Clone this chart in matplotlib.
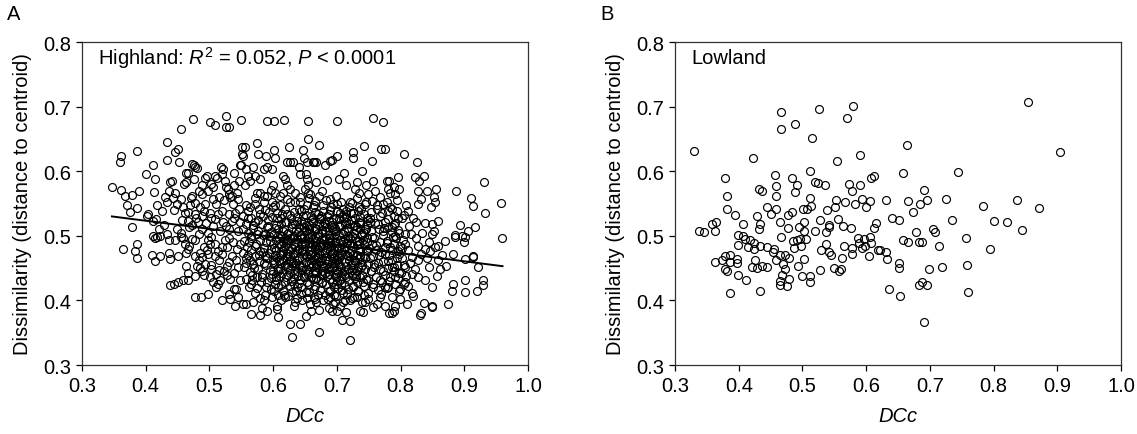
import numpy as np
import matplotlib
matplotlib.use("Agg")
import matplotlib.pyplot as plt

plt.rcParams['font.family'] = ['Liberation Sans', 'DejaVu Sans']
plt.rcParams['mathtext.fontset'] = 'custom'
plt.rcParams['mathtext.rm'] = 'Liberation Sans'
plt.rcParams['mathtext.it'] = 'Liberation Sans:italic'

# Highland points (DCc, dissimilarity), grouped by DCc band
highland_035 = [
    (0.347, 0.576), (0.362, 0.571), (0.367, 0.561), (0.379, 0.563), (0.389, 0.569), (0.413, 0.568),
    (0.371, 0.548), (0.375, 0.537), (0.387, 0.543), (0.417, 0.548), (0.404, 0.534), (0.412, 0.523),
    (0.378, 0.514), (0.362, 0.624), (0.360, 0.614), (0.387, 0.631), (0.412, 0.610), (0.401, 0.596),
    (0.414, 0.588), (0.434, 0.646), (0.446, 0.629), (0.451, 0.634), (0.434, 0.617), (0.438, 0.583),
    (0.441, 0.585), (0.437, 0.570), (0.446, 0.567), (0.443, 0.558), (0.433, 0.552), (0.449, 0.549),
    (0.416, 0.526), (0.429, 0.517), (0.449, 0.510), (0.412, 0.500), (0.422, 0.499), (0.433, 0.503),
    (0.365, 0.480), (0.383, 0.477), (0.387, 0.487), (0.386, 0.466), (0.410, 0.471), (0.415, 0.461),
    (0.422, 0.469), (0.414, 0.497), (0.417, 0.498), (0.437, 0.493), (0.437, 0.474), (0.438, 0.464),
    (0.446, 0.494), (0.438, 0.424), (0.445, 0.425), (0.402, 0.531), (0.421, 0.510), (0.430, 0.560),
    (0.444, 0.540), (0.426, 0.538),
]
highland_045 = [
    (0.456, 0.665), (0.474, 0.681), (0.501, 0.676), (0.508, 0.672), (0.526, 0.686), (0.526, 0.669),
    (0.530, 0.669), (0.549, 0.680), (0.464, 0.597), (0.476, 0.609), (0.477, 0.606), (0.493, 0.590),
    (0.496, 0.592), (0.476, 0.588), (0.456, 0.557), (0.463, 0.583), (0.471, 0.558), (0.477, 0.551),
    (0.483, 0.570), (0.488, 0.565), (0.498, 0.570), (0.503, 0.580), (0.518, 0.607), (0.521, 0.603),
    (0.519, 0.596), (0.539, 0.597), (0.549, 0.610), (0.526, 0.575), (0.529, 0.572), (0.530, 0.565),
    (0.532, 0.560), (0.543, 0.567), (0.545, 0.557), (0.537, 0.549), (0.505, 0.557), (0.511, 0.549),
    (0.493, 0.549), (0.462, 0.536), (0.467, 0.537), (0.477, 0.534), (0.488, 0.531), (0.501, 0.536),
    (0.519, 0.539), (0.530, 0.534), (0.540, 0.536), (0.509, 0.526), (0.522, 0.521), (0.535, 0.523),
    (0.548, 0.521), (0.456, 0.505), (0.472, 0.516), (0.488, 0.510), (0.498, 0.505), (0.517, 0.508),
    (0.530, 0.510), (0.545, 0.508), (0.451, 0.469), (0.455, 0.498), (0.459, 0.497), (0.463, 0.454),
    (0.464, 0.473), (0.467, 0.480), (0.468, 0.485), (0.477, 0.469), (0.483, 0.462), (0.485, 0.474),
    (0.480, 0.454), (0.488, 0.467), (0.493, 0.456), (0.491, 0.482), (0.497, 0.472), (0.498, 0.493),
    (0.501, 0.487), (0.503, 0.498), (0.477, 0.405), (0.487, 0.406), (0.498, 0.410), (0.451, 0.429),
    (0.458, 0.431), (0.467, 0.432), (0.501, 0.436), (0.506, 0.428), (0.511, 0.441), (0.513, 0.425),
    (0.517, 0.431), (0.510, 0.420), (0.523, 0.446), (0.527, 0.454), (0.530, 0.459), (0.532, 0.433),
    (0.530, 0.410), (0.538, 0.418), (0.540, 0.392), (0.545, 0.405), (0.519, 0.472), (0.527, 0.482),
    (0.535, 0.469), (0.543, 0.480), (0.509, 0.487), (0.514, 0.477), (0.545, 0.451), (0.466, 0.597),
    (0.481, 0.605), (0.473, 0.611), (0.466, 0.523), (0.482, 0.522), (0.495, 0.520), (0.505, 0.515),
    (0.459, 0.545), (0.470, 0.547), (0.485, 0.545), (0.515, 0.560), (0.524, 0.585), (0.538, 0.578),
    (0.512, 0.590), (0.503, 0.455), (0.515, 0.462), (0.525, 0.493), (0.537, 0.490), (0.478, 0.494),
    (0.485, 0.450), (0.492, 0.440), (0.520, 0.400), (0.505, 0.575), (0.453, 0.615), (0.460, 0.580),
    (0.457, 0.525), (0.468, 0.514), (0.479, 0.527), (0.491, 0.538), (0.503, 0.527), (0.514, 0.533),
    (0.526, 0.515), (0.538, 0.528), (0.547, 0.542), (0.461, 0.487), (0.473, 0.495), (0.484, 0.503),
    (0.496, 0.478), (0.508, 0.469), (0.519, 0.483), (0.531, 0.496), (0.542, 0.462), (0.548, 0.488),
    (0.466, 0.443), (0.478, 0.438), (0.489, 0.446), (0.502, 0.449), (0.515, 0.447), (0.528, 0.440),
    (0.539, 0.443), (0.548, 0.432), (0.472, 0.562), (0.489, 0.578), (0.508, 0.592), (0.523, 0.556),
    (0.535, 0.562), (0.547, 0.585), (0.542, 0.417), (0.533, 0.402),
]
highland_055 = [
    (0.551, 0.627), (0.551, 0.637), (0.574, 0.644), (0.556, 0.637), (0.553, 0.624), (0.577, 0.627),
    (0.589, 0.623), (0.601, 0.633), (0.603, 0.620), (0.625, 0.638), (0.647, 0.633), (0.648, 0.620),
    (0.591, 0.677), (0.601, 0.677), (0.617, 0.679), (0.621, 0.615), (0.626, 0.614), (0.631, 0.614),
    (0.640, 0.606), (0.642, 0.596), (0.548, 0.609), (0.558, 0.603), (0.569, 0.606), (0.572, 0.593),
    (0.579, 0.588), (0.585, 0.603), (0.590, 0.607), (0.598, 0.603), (0.561, 0.593), (0.564, 0.585),
    (0.556, 0.578), (0.579, 0.567), (0.590, 0.562), (0.600, 0.578), (0.603, 0.567), (0.616, 0.593),
    (0.619, 0.588), (0.621, 0.578), (0.626, 0.573), (0.615, 0.567), (0.558, 0.547), (0.572, 0.549),
    (0.585, 0.552), (0.600, 0.544), (0.611, 0.547), (0.621, 0.557), (0.634, 0.552), (0.642, 0.560),
    (0.640, 0.542), (0.566, 0.379), (0.590, 0.383), (0.608, 0.375), (0.606, 0.387), (0.630, 0.344),
    (0.627, 0.363), (0.642, 0.363), (0.558, 0.395), (0.569, 0.397), (0.582, 0.389), (0.585, 0.400),
    (0.598, 0.405), (0.606, 0.392), (0.619, 0.405), (0.632, 0.392), (0.634, 0.397), (0.645, 0.400),
    (0.580, 0.378), (0.552, 0.395),
    (0.553, 0.531), (0.566, 0.527), (0.579, 0.533), (0.592, 0.524), (0.606, 0.536), (0.613, 0.528),
    (0.627, 0.532), (0.637, 0.523), (0.647, 0.530), (0.560, 0.538), (0.588, 0.540), (0.620, 0.521),
    (0.644, 0.538), (0.598, 0.529), (0.571, 0.521),
    (0.552, 0.511), (0.561, 0.504), (0.568, 0.516), (0.577, 0.508), (0.584, 0.501), (0.590, 0.514),
    (0.597, 0.506), (0.604, 0.517), (0.611, 0.502), (0.617, 0.511), (0.623, 0.505), (0.629, 0.518),
    (0.636, 0.509), (0.642, 0.501), (0.648, 0.514), (0.557, 0.519), (0.583, 0.519), (0.608, 0.510),
    (0.633, 0.500), (0.574, 0.503),
    (0.554, 0.492), (0.559, 0.483), (0.566, 0.497), (0.573, 0.488), (0.580, 0.494), (0.586, 0.481),
    (0.593, 0.499), (0.599, 0.487), (0.605, 0.493), (0.612, 0.484), (0.618, 0.497), (0.624, 0.489),
    (0.630, 0.481), (0.637, 0.495), (0.643, 0.486), (0.649, 0.498), (0.562, 0.490), (0.589, 0.490),
    (0.615, 0.490), (0.640, 0.480), (0.627, 0.497), (0.602, 0.481),
    (0.552, 0.473), (0.558, 0.465), (0.565, 0.478), (0.571, 0.469), (0.578, 0.461), (0.584, 0.475),
    (0.591, 0.466), (0.597, 0.479), (0.603, 0.470), (0.609, 0.462), (0.616, 0.476), (0.622, 0.468),
    (0.628, 0.461), (0.634, 0.474), (0.641, 0.466), (0.647, 0.479), (0.560, 0.471), (0.587, 0.468),
    (0.613, 0.470), (0.638, 0.463), (0.625, 0.477), (0.600, 0.463),
    (0.555, 0.452), (0.563, 0.444), (0.569, 0.457), (0.576, 0.448), (0.583, 0.441), (0.589, 0.455),
    (0.595, 0.447), (0.602, 0.459), (0.608, 0.450), (0.614, 0.442), (0.621, 0.456), (0.627, 0.448),
    (0.633, 0.441), (0.640, 0.455), (0.646, 0.447), (0.567, 0.440), (0.598, 0.441), (0.624, 0.440),
    (0.636, 0.458), (0.611, 0.458),
    (0.558, 0.433), (0.566, 0.425), (0.574, 0.437), (0.581, 0.428), (0.589, 0.421), (0.596, 0.434),
    (0.603, 0.426), (0.611, 0.438), (0.618, 0.429), (0.626, 0.422), (0.633, 0.435), (0.641, 0.427),
    (0.648, 0.438), (0.562, 0.420), (0.607, 0.420), (0.637, 0.420),
    (0.571, 0.412), (0.588, 0.409), (0.602, 0.414), (0.617, 0.408), (0.629, 0.413), (0.643, 0.410),
    (0.579, 0.403), (0.612, 0.401), (0.638, 0.403),
    (0.563, 0.545), (0.571, 0.558), (0.578, 0.541), (0.586, 0.561), (0.594, 0.537), (0.561, 0.528),
    (0.569, 0.512), (0.576, 0.524), (0.584, 0.530), (0.592, 0.515), (0.598, 0.552), (0.565, 0.499),
    (0.572, 0.485), (0.580, 0.476), (0.587, 0.503), (0.595, 0.492), (0.563, 0.462), (0.570, 0.450),
    (0.578, 0.470), (0.585, 0.458), (0.593, 0.474), (0.599, 0.445), (0.567, 0.431), (0.575, 0.419),
    (0.583, 0.436), (0.591, 0.428), (0.597, 0.418), (0.558, 0.458), (0.574, 0.566), (0.596, 0.571),
    (0.603, 0.548), (0.610, 0.561), (0.618, 0.542), (0.626, 0.553), (0.634, 0.566), (0.606, 0.527),
    (0.613, 0.519), (0.621, 0.534), (0.629, 0.512), (0.637, 0.529), (0.602, 0.503), (0.609, 0.496),
    (0.616, 0.508), (0.624, 0.494), (0.632, 0.488), (0.639, 0.506), (0.604, 0.478), (0.611, 0.472),
    (0.619, 0.485), (0.627, 0.469), (0.635, 0.482), (0.601, 0.456), (0.608, 0.445), (0.616, 0.463),
    (0.623, 0.452), (0.631, 0.458), (0.638, 0.446), (0.605, 0.432), (0.612, 0.424), (0.620, 0.437),
    (0.628, 0.430), (0.636, 0.415), (0.615, 0.414), (0.624, 0.407), (0.632, 0.426), (0.607, 0.409),
    (0.639, 0.438), (0.622, 0.473), (0.630, 0.497), (0.614, 0.534),
    (0.642, 0.553), (0.649, 0.542), (0.644, 0.523), (0.643, 0.497), (0.645, 0.476), (0.642, 0.451),
    (0.649, 0.437), (0.644, 0.421), (0.646, 0.465), (0.648, 0.508),
]
highland_065 = [
    (0.654, 0.678), (0.701, 0.678), (0.655, 0.650), (0.672, 0.641), (0.653, 0.615), (0.663, 0.615),
    (0.668, 0.615), (0.681, 0.609), (0.693, 0.617), (0.701, 0.623), (0.726, 0.630), (0.726, 0.620),
    (0.743, 0.639), (0.652, 0.596), (0.653, 0.588), (0.655, 0.578), (0.650, 0.573), (0.658, 0.565),
    (0.668, 0.583), (0.684, 0.587), (0.676, 0.570), (0.704, 0.588), (0.715, 0.578), (0.731, 0.583),
    (0.729, 0.573), (0.734, 0.567), (0.746, 0.578), (0.749, 0.565), (0.653, 0.547), (0.666, 0.554),
    (0.679, 0.547), (0.689, 0.557), (0.700, 0.549), (0.710, 0.541), (0.721, 0.552), (0.734, 0.544),
    (0.744, 0.549), (0.672, 0.351), (0.721, 0.339), (0.708, 0.370), (0.720, 0.368), (0.652, 0.376),
    (0.659, 0.384), (0.672, 0.385), (0.688, 0.388), (0.692, 0.383), (0.700, 0.383), (0.714, 0.382),
    (0.737, 0.384), (0.741, 0.382), (0.658, 0.395), (0.666, 0.402), (0.679, 0.400), (0.689, 0.405),
    (0.697, 0.397), (0.705, 0.392), (0.721, 0.400), (0.731, 0.405), (0.739, 0.397), (0.749, 0.402),
    (0.664, 0.614), (0.690, 0.616), (0.711, 0.598), (0.740, 0.600),
    (0.652, 0.532), (0.659, 0.524), (0.666, 0.537), (0.673, 0.528), (0.680, 0.521), (0.687, 0.534),
    (0.694, 0.526), (0.701, 0.539), (0.708, 0.530), (0.715, 0.522), (0.722, 0.535), (0.729, 0.527),
    (0.736, 0.520), (0.743, 0.533), (0.749, 0.525), (0.662, 0.521), (0.690, 0.540), (0.711, 0.527),
    (0.733, 0.539),
    (0.651, 0.507), (0.656, 0.516), (0.661, 0.502), (0.667, 0.511), (0.672, 0.519), (0.677, 0.504),
    (0.683, 0.513), (0.688, 0.501), (0.693, 0.517), (0.699, 0.508), (0.704, 0.515), (0.710, 0.503),
    (0.716, 0.512), (0.721, 0.519), (0.727, 0.505), (0.732, 0.514), (0.738, 0.502), (0.744, 0.511),
    (0.748, 0.518), (0.664, 0.508), (0.681, 0.498), (0.697, 0.503), (0.712, 0.518), (0.730, 0.509),
    (0.742, 0.505),
    (0.650, 0.489), (0.655, 0.497), (0.660, 0.483), (0.665, 0.492), (0.670, 0.499), (0.675, 0.486),
    (0.680, 0.494), (0.685, 0.481), (0.690, 0.490), (0.695, 0.498), (0.700, 0.485), (0.705, 0.493),
    (0.711, 0.480), (0.716, 0.489), (0.721, 0.497), (0.726, 0.484), (0.731, 0.492), (0.737, 0.480),
    (0.742, 0.488), (0.747, 0.496), (0.658, 0.490), (0.673, 0.482), (0.688, 0.496), (0.703, 0.481),
    (0.718, 0.494), (0.734, 0.487), (0.667, 0.485), (0.697, 0.489),
    (0.651, 0.468), (0.656, 0.476), (0.661, 0.462), (0.666, 0.471), (0.671, 0.479), (0.676, 0.465),
    (0.681, 0.473), (0.686, 0.461), (0.691, 0.470), (0.696, 0.478), (0.701, 0.464), (0.706, 0.472),
    (0.712, 0.460), (0.717, 0.469), (0.722, 0.477), (0.727, 0.463), (0.732, 0.471), (0.738, 0.460),
    (0.743, 0.468), (0.748, 0.476), (0.659, 0.470), (0.674, 0.461), (0.689, 0.476), (0.704, 0.466),
    (0.719, 0.473), (0.735, 0.466), (0.664, 0.464), (0.694, 0.465),
    (0.652, 0.448), (0.657, 0.456), (0.662, 0.442), (0.667, 0.451), (0.672, 0.459), (0.677, 0.445),
    (0.682, 0.453), (0.687, 0.441), (0.692, 0.450), (0.697, 0.458), (0.702, 0.444), (0.707, 0.452),
    (0.713, 0.440), (0.718, 0.449), (0.723, 0.457), (0.728, 0.443), (0.733, 0.451), (0.739, 0.440),
    (0.744, 0.448), (0.749, 0.456), (0.665, 0.446), (0.684, 0.457), (0.700, 0.447), (0.725, 0.450),
    (0.653, 0.428), (0.659, 0.436), (0.665, 0.422), (0.671, 0.431), (0.677, 0.439), (0.683, 0.425),
    (0.689, 0.433), (0.695, 0.421), (0.701, 0.430), (0.707, 0.438), (0.713, 0.424), (0.719, 0.432),
    (0.725, 0.420), (0.731, 0.429), (0.737, 0.437), (0.743, 0.423), (0.749, 0.431), (0.668, 0.435),
    (0.698, 0.426), (0.728, 0.435),
    (0.656, 0.413), (0.664, 0.406), (0.673, 0.416), (0.681, 0.409), (0.690, 0.414), (0.699, 0.407),
    (0.708, 0.416), (0.716, 0.410), (0.724, 0.404), (0.733, 0.414), (0.742, 0.408), (0.686, 0.402),
    (0.712, 0.401),
    (0.657, 0.558), (0.664, 0.547), (0.672, 0.562), (0.678, 0.539), (0.651, 0.517), (0.659, 0.531),
    (0.666, 0.512), (0.674, 0.526), (0.679, 0.515), (0.650, 0.485), (0.656, 0.503), (0.663, 0.495),
    (0.669, 0.481), (0.676, 0.509), (0.652, 0.459), (0.658, 0.472), (0.665, 0.479), (0.671, 0.466),
    (0.677, 0.455), (0.655, 0.444), (0.662, 0.433), (0.668, 0.457), (0.675, 0.441), (0.651, 0.413),
    (0.657, 0.426), (0.664, 0.418), (0.670, 0.409), (0.677, 0.427), (0.653, 0.403), (0.667, 0.398),
    (0.660, 0.452), (0.674, 0.490), (0.661, 0.488), (0.670, 0.534), (0.655, 0.566),
    (0.683, 0.556), (0.691, 0.545), (0.698, 0.561), (0.706, 0.552), (0.714, 0.539), (0.684, 0.531),
    (0.692, 0.521), (0.699, 0.528), (0.707, 0.517), (0.715, 0.533), (0.682, 0.507), (0.689, 0.496),
    (0.697, 0.512), (0.704, 0.501), (0.712, 0.495), (0.718, 0.508), (0.685, 0.487), (0.693, 0.474),
    (0.700, 0.481), (0.708, 0.487), (0.716, 0.471), (0.681, 0.462), (0.688, 0.451), (0.696, 0.466),
    (0.703, 0.457), (0.711, 0.446), (0.719, 0.462), (0.684, 0.438), (0.692, 0.429), (0.699, 0.443),
    (0.707, 0.426), (0.714, 0.436), (0.687, 0.415), (0.695, 0.408), (0.702, 0.419), (0.710, 0.411),
    (0.717, 0.418), (0.694, 0.395), (0.709, 0.398), (0.683, 0.478), (0.697, 0.440), (0.713, 0.483),
    (0.705, 0.535),
    (0.723, 0.551), (0.731, 0.559), (0.738, 0.541), (0.746, 0.553), (0.722, 0.525), (0.729, 0.517),
    (0.737, 0.529), (0.745, 0.511), (0.724, 0.499), (0.731, 0.486), (0.739, 0.503), (0.747, 0.491),
    (0.721, 0.473), (0.728, 0.461), (0.736, 0.477), (0.744, 0.465), (0.723, 0.447), (0.730, 0.438),
    (0.738, 0.452), (0.746, 0.433), (0.725, 0.423), (0.733, 0.415), (0.741, 0.428), (0.749, 0.412),
    (0.727, 0.405), (0.744, 0.398), (0.735, 0.492), (0.748, 0.527), (0.726, 0.535),
]
# the darkest part of the cloud
highland_core = [
    (0.603, 0.512), (0.609, 0.487), (0.614, 0.499), (0.619, 0.522), (0.625, 0.461), (0.631, 0.472),
    (0.636, 0.491), (0.641, 0.513), (0.646, 0.452), (0.653, 0.469), (0.658, 0.498), (0.663, 0.527),
    (0.668, 0.443), (0.672, 0.474), (0.676, 0.495), (0.681, 0.518), (0.686, 0.449), (0.691, 0.484),
    (0.695, 0.507), (0.699, 0.462), (0.703, 0.526), (0.708, 0.443), (0.712, 0.472), (0.717, 0.499),
    (0.722, 0.455), (0.727, 0.515), (0.732, 0.446), (0.736, 0.469), (0.741, 0.494), (0.606, 0.466),
    (0.611, 0.449), (0.617, 0.481), (0.622, 0.503), (0.628, 0.527), (0.633, 0.455), (0.638, 0.478),
    (0.643, 0.502), (0.649, 0.521), (0.654, 0.441), (0.660, 0.458), (0.665, 0.486), (0.670, 0.505),
    (0.675, 0.531), (0.679, 0.452), (0.684, 0.468), (0.688, 0.492), (0.693, 0.514), (0.698, 0.437),
    (0.702, 0.459), (0.706, 0.478), (0.711, 0.508), (0.715, 0.453), (0.720, 0.486), (0.725, 0.470),
    (0.729, 0.497), (0.734, 0.521), (0.739, 0.455), (0.745, 0.478), (0.618, 0.455), (0.627, 0.442),
    (0.645, 0.488), (0.657, 0.511), (0.663, 0.455), (0.679, 0.487), (0.692, 0.458), (0.709, 0.493),
    (0.714, 0.529), (0.696, 0.452), (0.682, 0.442), (0.667, 0.466), (0.648, 0.472), (0.634, 0.519),
    (0.621, 0.493), (0.687, 0.523), (0.701, 0.471), (0.724, 0.440), (0.737, 0.511), (0.604, 0.437),
    (0.642, 0.432), (0.676, 0.428), (0.705, 0.431), (0.632, 0.537), (0.662, 0.545), (0.694, 0.549),
    (0.719, 0.545),
]
highland_075 = [
    (0.757, 0.682), (0.772, 0.676), (0.755, 0.616), (0.770, 0.634), (0.776, 0.634), (0.806, 0.626),
    (0.826, 0.615), (0.796, 0.591), (0.822, 0.591), (0.829, 0.585), (0.837, 0.593), (0.782, 0.585),
    (0.789, 0.575), (0.797, 0.572), (0.791, 0.565), (0.784, 0.567), (0.828, 0.570), (0.841, 0.569),
    (0.757, 0.585), (0.760, 0.570), (0.768, 0.560), (0.778, 0.585), (0.781, 0.572), (0.755, 0.554),
    (0.763, 0.541), (0.773, 0.549), (0.781, 0.539), (0.828, 0.549), (0.832, 0.557), (0.848, 0.545),
    (0.809, 0.547), (0.806, 0.532), (0.794, 0.539), (0.784, 0.544), (0.789, 0.531), (0.824, 0.522),
    (0.849, 0.518), (0.776, 0.521), (0.786, 0.513), (0.797, 0.505), (0.807, 0.503), (0.791, 0.500),
    (0.828, 0.485), (0.838, 0.480), (0.844, 0.490), (0.844, 0.451), (0.807, 0.428), (0.805, 0.425),
    (0.812, 0.423), (0.818, 0.441), (0.828, 0.436), (0.839, 0.431), (0.849, 0.420), (0.791, 0.436),
    (0.781, 0.420), (0.797, 0.415), (0.807, 0.451), (0.786, 0.451), (0.818, 0.467), (0.828, 0.462),
    (0.797, 0.472), (0.784, 0.482), (0.807, 0.487), (0.836, 0.396), (0.832, 0.380), (0.820, 0.407),
    (0.810, 0.395), (0.791, 0.392), (0.786, 0.380), (0.789, 0.384), (0.799, 0.402), (0.757, 0.390),
    (0.763, 0.394), (0.782, 0.380), (0.768, 0.405), (0.776, 0.392),
    (0.752, 0.527), (0.760, 0.520), (0.767, 0.531), (0.774, 0.512), (0.781, 0.526), (0.789, 0.517),
    (0.796, 0.528), (0.753, 0.508), (0.759, 0.497), (0.766, 0.510), (0.772, 0.501), (0.779, 0.492),
    (0.786, 0.506), (0.793, 0.497), (0.799, 0.485), (0.755, 0.487), (0.762, 0.478), (0.768, 0.490),
    (0.775, 0.482), (0.782, 0.471), (0.789, 0.488), (0.796, 0.476), (0.752, 0.466), (0.759, 0.457),
    (0.766, 0.470), (0.773, 0.461), (0.780, 0.450), (0.787, 0.463), (0.794, 0.455), (0.754, 0.445),
    (0.761, 0.437), (0.768, 0.448), (0.775, 0.440), (0.782, 0.430), (0.789, 0.445), (0.796, 0.435),
    (0.756, 0.425), (0.764, 0.416), (0.771, 0.428), (0.778, 0.419), (0.801, 0.443), (0.803, 0.465),
    (0.812, 0.478), (0.815, 0.458), (0.822, 0.449), (0.817, 0.503), (0.813, 0.515), (0.824, 0.496),
    (0.833, 0.505), (0.811, 0.538), (0.819, 0.528), (0.838, 0.520), (0.842, 0.465), (0.832, 0.472),
    (0.846, 0.477), (0.818, 0.411),
    (0.754, 0.537), (0.752, 0.522), (0.755, 0.498), (0.751, 0.481), (0.757, 0.469), (0.753, 0.446),
    (0.756, 0.421), (0.758, 0.452),
    (0.763, 0.548), (0.771, 0.536), (0.779, 0.553), (0.787, 0.541), (0.795, 0.556), (0.803, 0.528),
    (0.764, 0.519), (0.772, 0.507), (0.780, 0.513), (0.788, 0.498), (0.796, 0.509), (0.804, 0.494),
    (0.762, 0.486), (0.770, 0.475), (0.778, 0.489), (0.786, 0.478), (0.794, 0.466), (0.802, 0.481),
    (0.765, 0.458), (0.773, 0.446), (0.781, 0.461), (0.789, 0.452), (0.797, 0.443), (0.805, 0.455),
    (0.767, 0.432), (0.775, 0.421), (0.783, 0.437), (0.791, 0.426), (0.799, 0.418), (0.808, 0.438),
    (0.770, 0.410), (0.786, 0.405), (0.776, 0.472), (0.792, 0.520),
]
highland_085 = [
    (0.853, 0.560), (0.854, 0.553), (0.855, 0.573), (0.887, 0.570), (0.931, 0.583), (0.911, 0.558),
    (0.913, 0.546), (0.957, 0.551), (0.932, 0.535), (0.859, 0.523), (0.852, 0.507), (0.849, 0.503),
    (0.893, 0.517), (0.906, 0.508), (0.917, 0.514), (0.886, 0.501), (0.896, 0.500), (0.959, 0.496),
    (0.870, 0.492), (0.886, 0.498), (0.899, 0.490), (0.901, 0.498), (0.883, 0.472), (0.901, 0.464),
    (0.914, 0.467), (0.913, 0.469), (0.922, 0.451), (0.854, 0.482), (0.859, 0.485), (0.857, 0.438),
    (0.862, 0.449), (0.872, 0.454), (0.883, 0.425), (0.880, 0.415), (0.901, 0.431), (0.901, 0.413),
    (0.920, 0.414), (0.930, 0.432), (0.930, 0.424), (0.875, 0.395), (0.849, 0.392), (0.865, 0.470),
    (0.858, 0.462), (0.850, 0.390), (0.831, 0.378),
]

# fitted line for highland (end points)
fit_x = [0.347, 0.960]
fit_y = [0.530, 0.453]

# Lowland points
lowland = [
    (0.330, 0.632), (0.337, 0.508), (0.346, 0.506), (0.358, 0.519), (0.365, 0.522), (0.363, 0.508),
    (0.363, 0.460), (0.373, 0.462), (0.378, 0.468), (0.378, 0.589), (0.382, 0.561), (0.382, 0.541),
    (0.387, 0.471), (0.378, 0.449), (0.382, 0.445), (0.386, 0.411), (0.387, 0.459), (0.394, 0.532),
    (0.397, 0.464), (0.398, 0.458), (0.399, 0.502), (0.399, 0.486), (0.399, 0.439), (0.406, 0.518),
    (0.406, 0.499), (0.410, 0.495), (0.411, 0.431), (0.415, 0.483), (0.417, 0.494), (0.421, 0.452),
    (0.422, 0.620), (0.424, 0.489), (0.424, 0.479), (0.426, 0.462), (0.428, 0.450), (0.428, 0.530),
    (0.432, 0.511), (0.432, 0.573), (0.436, 0.570), (0.434, 0.518), (0.434, 0.485), (0.436, 0.454),
    (0.434, 0.415), (0.444, 0.545), (0.445, 0.483), (0.445, 0.451), (0.451, 0.533), (0.453, 0.475),
    (0.457, 0.594), (0.459, 0.577), (0.459, 0.561), (0.459, 0.541), (0.456, 0.480), (0.459, 0.462),
    (0.464, 0.470), (0.465, 0.521), (0.466, 0.498), (0.466, 0.691), (0.466, 0.666), (0.464, 0.430),
    (0.465, 0.424), (0.468, 0.440), (0.469, 0.456), (0.472, 0.448), (0.472, 0.470), (0.475, 0.422),
    (0.477, 0.512), (0.477, 0.532), (0.479, 0.466), (0.479, 0.433), (0.483, 0.590), (0.483, 0.537),
    (0.485, 0.492), (0.486, 0.481), (0.489, 0.673), (0.489, 0.568), (0.491, 0.579), (0.492, 0.493),
    (0.493, 0.453), (0.494, 0.513), (0.496, 0.495), (0.497, 0.484), (0.499, 0.438), (0.501, 0.541),
    (0.502, 0.508), (0.503, 0.464), (0.503, 0.521), (0.505, 0.495), (0.507, 0.542), (0.512, 0.601),
    (0.512, 0.559), (0.513, 0.546), (0.512, 0.438), (0.512, 0.428), (0.515, 0.651), (0.519, 0.583),
    (0.519, 0.508), (0.524, 0.581), (0.526, 0.697), (0.527, 0.525), (0.529, 0.478), (0.527, 0.447),
    (0.536, 0.579), (0.537, 0.488), (0.539, 0.540), (0.537, 0.506), (0.541, 0.517), (0.541, 0.475),
    (0.542, 0.513), (0.545, 0.470), (0.551, 0.544), (0.552, 0.555), (0.550, 0.450), (0.556, 0.526),
    (0.554, 0.616), (0.557, 0.446), (0.560, 0.449), (0.562, 0.465), (0.564, 0.515), (0.565, 0.484),
    (0.566, 0.553), (0.570, 0.683), (0.573, 0.580), (0.576, 0.512), (0.577, 0.481), (0.577, 0.569),
    (0.578, 0.472), (0.580, 0.701), (0.583, 0.549), (0.587, 0.497), (0.589, 0.489), (0.590, 0.579),
    (0.591, 0.625), (0.593, 0.557), (0.593, 0.481), (0.596, 0.495), (0.598, 0.485), (0.600, 0.544),
    (0.604, 0.468), (0.606, 0.554), (0.606, 0.498), (0.607, 0.489), (0.607, 0.590), (0.612, 0.593),
    (0.613, 0.512), (0.615, 0.520), (0.618, 0.478), (0.621, 0.478), (0.631, 0.556), (0.631, 0.475),
    (0.633, 0.464), (0.636, 0.418), (0.641, 0.527), (0.652, 0.525), (0.651, 0.458), (0.652, 0.450),
    (0.653, 0.407), (0.657, 0.598), (0.658, 0.493), (0.664, 0.641), (0.665, 0.554), (0.666, 0.491),
    (0.673, 0.537), (0.678, 0.506), (0.685, 0.550), (0.683, 0.491), (0.688, 0.491), (0.683, 0.424),
    (0.688, 0.428), (0.691, 0.571), (0.691, 0.366), (0.695, 0.424), (0.696, 0.556), (0.699, 0.449),
    (0.705, 0.510), (0.708, 0.506), (0.715, 0.485), (0.719, 0.451), (0.725, 0.557), (0.734, 0.524),
    (0.744, 0.599), (0.756, 0.496), (0.758, 0.455), (0.759, 0.413), (0.784, 0.546), (0.794, 0.480),
    (0.801, 0.523), (0.821, 0.521), (0.836, 0.555), (0.844, 0.509), (0.854, 0.707), (0.871, 0.543),
    (0.904, 0.630),
]

x_ticks = [0.3, 0.4, 0.5, 0.6, 0.7, 0.8, 0.9, 1.0]
y_ticks = [0.3, 0.4, 0.5, 0.6, 0.7, 0.8]

highland = np.array(highland_035 + highland_045 + highland_055 + highland_065
                    + highland_core + highland_075 + highland_085)
lowland = np.array(lowland)

fig = plt.figure(figsize=(11.37, 4.35), dpi=100)
axA = fig.add_axes([0.0721, 0.1586, 0.3923, 0.7425])
axB = fig.add_axes([0.5937, 0.1586, 0.3923, 0.7425])

marker_kw = dict(linestyle='none', marker='o', markersize=5.7, markerfacecolor='none',
                 markeredgecolor='black', markeredgewidth=0.85)

axA.plot(highland[:, 0], highland[:, 1], **marker_kw)
axA.plot(fit_x, fit_y, color='black', linewidth=1.4)
axB.plot(lowland[:, 0], lowland[:, 1], **marker_kw)

for ax in (axA, axB):
    ax.set_xlim(0.3, 1.0)
    ax.set_ylim(0.3, 0.8)
    ax.set_xticks(x_ticks)
    ax.set_yticks(y_ticks)
    ax.set_xticklabels([f"{t:.1f}" for t in x_ticks])
    ax.set_yticklabels([f"{t:.1f}" for t in y_ticks])
    ax.tick_params(direction='out', length=4, width=0.9, labelsize=14.5, pad=4,
                   top=False, right=False)
    for s in ax.spines.values():
        s.set_linewidth(0.9)
        s.set_color('#333333')
    ax.set_xlabel('DCc', fontsize=14.5, style='italic', labelpad=8)
    ax.set_ylabel('Dissimilarity (distance to centroid)', fontsize=14.5, labelpad=8)

axA.text(0.036, 0.953, r'Highland: $R^2$ = 0.052, $P$ < 0.0001', transform=axA.transAxes,
         fontsize=14.5, va='center', ha='left')
axB.text(0.036, 0.953, 'Lowland', transform=axB.transAxes, fontsize=14.5, va='center', ha='left')

fig.text(14 / 1137, 1 - 14 / 435, 'A', fontsize=14.5, va='center', ha='center')
fig.text(607 / 1137, 1 - 14 / 435, 'B', fontsize=14.5, va='center', ha='center')

fig.savefig('out.png', dpi=100)
